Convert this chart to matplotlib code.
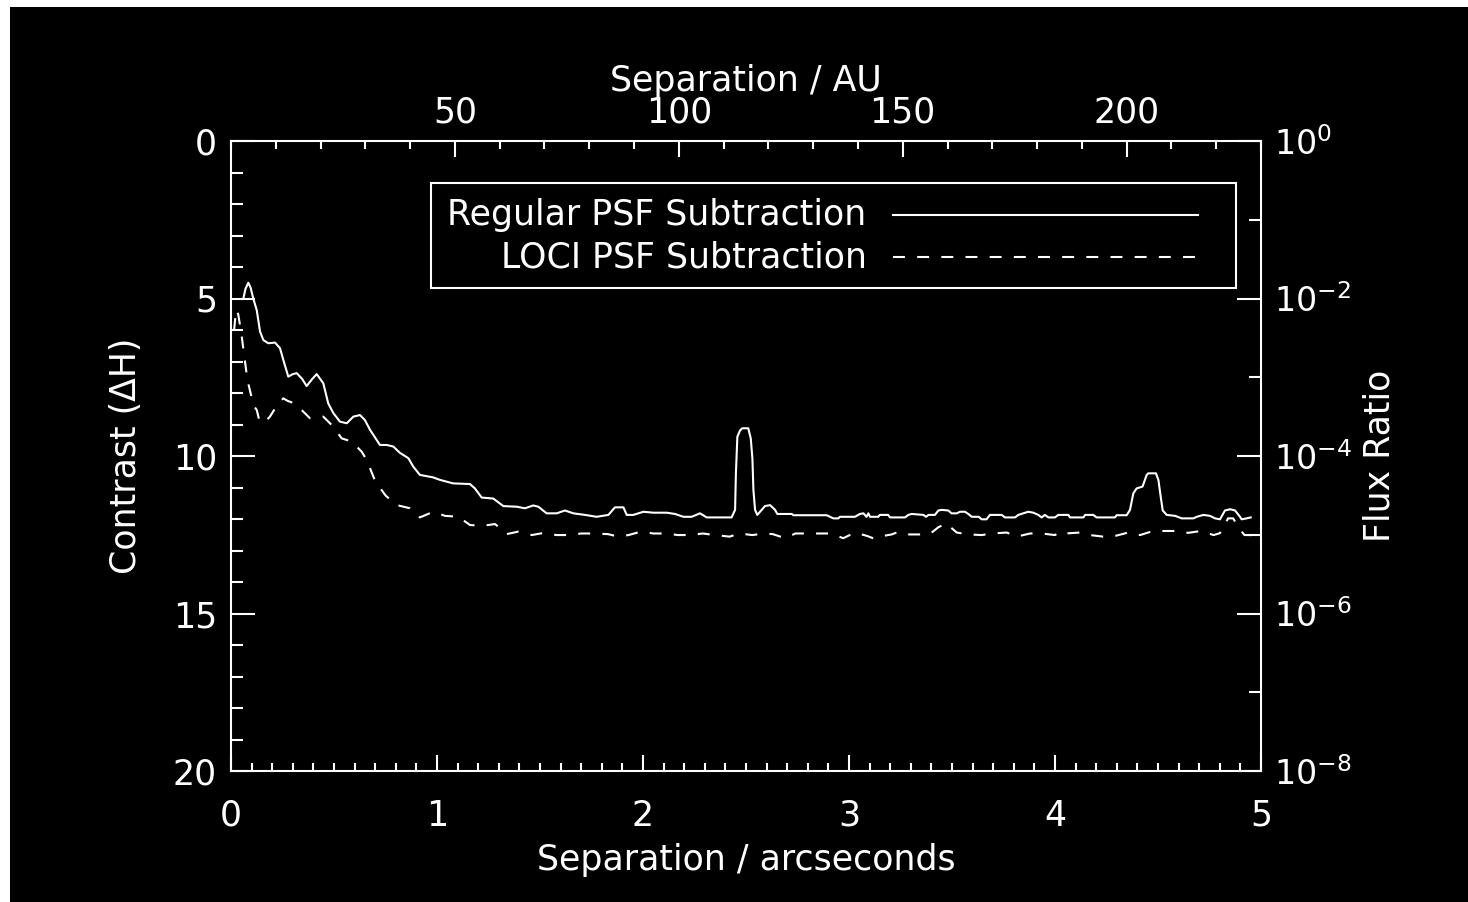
import numpy as np
import matplotlib
matplotlib.use("Agg")
import matplotlib.pyplot as plt
from matplotlib.patches import Rectangle
from matplotlib.ticker import MultipleLocator, FixedLocator

# Contrast curves (separation in arcsec, delta H in mag)
reg_sep = [0.060, 0.070, 0.084, 0.095, 0.108, 0.125, 0.141, 0.157, 0.181, 0.214,
           0.238, 0.254, 0.278, 0.300, 0.319, 0.345, 0.367, 0.395, 0.416, 0.448,
           0.472, 0.497, 0.529, 0.562, 0.594, 0.626, 0.650, 0.675, 0.723, 0.756,
           0.788, 0.820, 0.861, 0.885, 0.917, 0.982, 1.015, 1.079, 1.160, 1.184,
           1.217, 1.273, 1.322, 1.387, 1.427, 1.467, 1.492, 1.532, 1.581, 1.621,
           1.662, 1.718, 1.775, 1.832, 1.864, 1.905, 1.921, 1.953, 2.002, 2.050,
           2.115, 2.155, 2.196, 2.236, 2.277, 2.309, 2.430, 2.447, 2.451, 2.458,
           2.471, 2.482, 2.511, 2.523, 2.531, 2.536, 2.544, 2.555, 2.568, 2.592,
           2.617, 2.641, 2.652, 2.722, 2.730, 2.892, 2.924, 2.948, 2.956, 3.029,
           3.053, 3.070, 3.085, 3.094, 3.102, 3.142, 3.150, 3.190, 3.199, 3.272,
           3.288, 3.304, 3.361, 3.374, 3.386, 3.417, 3.434, 3.450, 3.482, 3.498,
           3.523, 3.539, 3.563, 3.579, 3.596, 3.630, 3.644, 3.668, 3.684, 3.741,
           3.757, 3.806, 3.822, 3.846, 3.870, 3.895, 3.919, 3.935, 3.951, 3.968,
           4.000, 4.016, 4.065, 4.073, 4.138, 4.146, 4.186, 4.202, 4.291, 4.299,
           4.348, 4.364, 4.380, 4.396, 4.425, 4.445, 4.453, 4.490, 4.502, 4.513,
           4.523, 4.542, 4.583, 4.615, 4.672, 4.688, 4.720, 4.752, 4.777, 4.801,
           4.825, 4.850, 4.874, 4.898, 4.906, 4.930, 4.950]
reg_dh = [5.00, 4.70, 4.50, 4.65, 5.00, 5.37, 6.05, 6.32, 6.42, 6.40,
          6.58, 6.95, 7.48, 7.40, 7.37, 7.55, 7.78, 7.55, 7.40, 7.69,
          8.33, 8.64, 8.91, 8.96, 8.75, 8.70, 8.86, 9.17, 9.65, 9.65,
          9.70, 9.90, 10.07, 10.34, 10.60, 10.68, 10.76, 10.87, 10.89, 11.03,
          11.32, 11.35, 11.59, 11.61, 11.66, 11.57, 11.61, 11.82, 11.82, 11.73,
          11.82, 11.87, 11.93, 11.87, 11.63, 11.63, 11.87, 11.87, 11.77, 11.80,
          11.80, 11.84, 11.93, 11.93, 11.82, 11.95, 11.95, 11.71, 10.55, 9.39,
          9.19, 9.12, 9.12, 9.44, 10.07, 11.08, 11.71, 11.87, 11.77, 11.59,
          11.56, 11.71, 11.84, 11.84, 11.88, 11.88, 11.98, 11.98, 11.93, 11.93,
          11.84, 11.82, 11.93, 11.82, 11.93, 11.93, 11.87, 11.87, 11.95, 11.95,
          11.87, 11.84, 11.87, 11.93, 11.87, 11.87, 11.73, 11.71, 11.73, 11.82,
          11.82, 11.77, 11.77, 11.84, 11.93, 11.93, 12.01, 12.01, 11.87, 11.87,
          11.95, 11.95, 11.87, 11.82, 11.77, 11.80, 11.87, 11.95, 11.87, 11.95,
          11.95, 11.87, 11.87, 11.95, 11.95, 11.87, 11.87, 11.95, 11.95, 11.88,
          11.88, 11.71, 11.19, 11.03, 10.97, 10.60, 10.55, 10.55, 10.76, 11.29,
          11.73, 11.87, 11.90, 11.98, 11.98, 11.93, 11.87, 11.90, 11.98, 12.01,
          11.73, 11.69, 11.73, 11.93, 12.01, 11.98, 11.95]

loci_sep = [0.015, 0.025, 0.035, 0.050, 0.080, 0.110, 0.125, 0.137, 0.160, 0.189,
            0.214, 0.235, 0.254, 0.275, 0.295, 0.320, 0.343, 0.383, 0.410, 0.448,
            0.497, 0.537, 0.586, 0.610, 0.634, 0.659, 0.700, 0.750, 0.800, 0.869,
            0.917, 0.982, 1.039, 1.104, 1.160, 1.217, 1.282, 1.338, 1.395, 1.460,
            1.520, 1.580, 1.640, 1.700, 1.760, 1.830, 1.880, 1.930, 1.990, 2.050,
            2.110, 2.170, 2.230, 2.290, 2.350, 2.420, 2.470, 2.530, 2.590, 2.630,
            2.690, 2.740, 2.810, 2.850, 2.920, 2.960, 2.972, 3.029, 3.089, 3.120,
            3.147, 3.207, 3.235, 3.264, 3.330, 3.390, 3.434, 3.474, 3.500, 3.523,
            3.580, 3.644, 3.693, 3.766, 3.814, 3.879, 3.935, 4.000, 4.025, 4.050,
            4.121, 4.170, 4.234, 4.291, 4.355, 4.413, 4.477, 4.534, 4.590, 4.646,
            4.710, 4.770, 4.800, 4.815, 4.840, 4.865, 4.890, 4.920, 4.970]
loci_dh = [6.00, 5.35, 5.50, 6.10, 7.60, 8.40, 8.54, 8.86, 8.95, 8.75,
           8.49, 8.30, 8.17, 8.25, 8.30, 8.40, 8.54, 8.80, 8.78, 8.75,
           9.07, 9.44, 9.54, 9.70, 9.86, 10.13, 10.80, 11.25, 11.55, 11.66,
           11.95, 11.77, 11.90, 11.93, 12.19, 12.22, 12.16, 12.48, 12.40, 12.51,
           12.44, 12.51, 12.51, 12.46, 12.46, 12.48, 12.56, 12.51, 12.40, 12.46,
           12.46, 12.51, 12.51, 12.46, 12.51, 12.56, 12.46, 12.51, 12.46, 12.48,
           12.61, 12.46, 12.46, 12.46, 12.46, 12.58, 12.61, 12.43, 12.54, 12.62,
           12.56, 12.49, 12.42, 12.49, 12.49, 12.49, 12.26, 12.14, 12.30, 12.43,
           12.49, 12.51, 12.46, 12.43, 12.56, 12.46, 12.46, 12.51, 12.40, 12.46,
           12.43, 12.51, 12.56, 12.54, 12.43, 12.51, 12.38, 12.38, 12.38, 12.44,
           12.38, 12.51, 12.45, 12.30, 11.98, 11.98, 12.27, 12.51, 12.51]

dist_pc = 46.0  # AU per arcsec
au_ticks = [50, 100, 150, 200]
flux_ticks = [1e0, 1e-2, 1e-4, 1e-6, 1e-8]
flux_labels = ["$10^{0}$", "$10^{-2}$", "$10^{-4}$", "$10^{-6}$", "$10^{-8}$"]

fg = "white"
plt.rcParams["font.family"] = "DejaVu Sans"
plt.rcParams["font.size"] = 25
plt.rcParams["mathtext.fontset"] = "dejavusans"
plt.rcParams["lines.scale_dashes"] = False

fig = plt.figure(figsize=(14.68, 9.02), dpi=100, facecolor="white")
# black plotting area (thin white strip left and top)
fig.patches.append(Rectangle((10 / 1468, 0), 1 - 10 / 1468, 1 - 7 / 902,
                             transform=fig.transFigure, facecolor="black",
                             edgecolor="none", zorder=-10))

ax = fig.add_axes([231 / 1468, 1 - 771 / 902, 1030 / 1468, 630 / 902])
ax.set_facecolor("black")
lw = 1.5

ax.plot(reg_sep, reg_dh, color=fg, lw=lw)
ax.plot(loci_sep, loci_dh, color=fg, lw=lw, linestyle=(0, (8.6, 8.8)))

ax.set_xlim(0, 5)
ax.set_ylim(20, 0)
for s in ax.spines.values():
    s.set_color(fg)
    s.set_linewidth(lw)

ax.xaxis.set_major_locator(MultipleLocator(1))
ax.xaxis.set_minor_locator(MultipleLocator(0.1))
ax.yaxis.set_major_locator(MultipleLocator(5))
ax.yaxis.set_minor_locator(MultipleLocator(1))
ax.tick_params(axis="x", which="major", direction="in", length=11.2, width=lw,
               color=fg, labelcolor=fg, pad=20, top=False)
ax.tick_params(axis="x", which="minor", direction="in", length=5.8, width=lw,
               color=fg, top=False)
ax.tick_params(axis="y", which="major", direction="in", length=17.3, width=lw,
               color=fg, labelcolor=fg, pad=10, right=False)
ax.tick_params(axis="y", which="minor", direction="in", length=8.6, width=lw,
               color=fg, right=False)

ax.set_xlabel("Separation / arcseconds", color=fg)
ax.xaxis.set_label_coords(0.5, -0.114)
ax.set_ylabel("Contrast (ΔH)", color=fg)
ax.yaxis.set_label_coords(-0.085, 0.5)

# top axis in AU
top = ax.secondary_xaxis("top", functions=(lambda x: x * dist_pc,
                                           lambda a: a / dist_pc))
top.xaxis.set_major_locator(FixedLocator(au_ticks))
top.xaxis.set_minor_locator(MultipleLocator(10))
top.tick_params(which="major", direction="in", length=11.2, width=lw,
                color=fg, labelcolor=fg, pad=8.5)
top.tick_params(which="minor", direction="in", length=5.8, width=lw, color=fg)
top.spines["top"].set_visible(False)
top.set_xlabel("Separation / AU", color=fg, labelpad=3)

# right axis: flux ratio
ax2 = ax.twinx()
ax2.set_yscale("log")
ax2.set_ylim(1e-8, 1)
ax2.set_yticks(flux_ticks, flux_labels)
ax2.yaxis.set_minor_locator(FixedLocator([1e-1, 1e-3, 1e-5, 1e-7]))
ax2.yaxis.set_minor_formatter(plt.NullFormatter())
ax2.tick_params(which="major", direction="in", length=17.3, width=lw,
                color=fg, labelcolor=fg, pad=9, labelsize=24)
ax2.tick_params(which="minor", direction="in", length=8.6, width=lw, color=fg)
for s in ax2.spines.values():
    s.set_visible(False)
ax2.set_ylabel("Flux Ratio", color=fg)
ax2.yaxis.set_label_coords(1.099, 0.5)

# legend box
ax.add_patch(Rectangle((0.194, 0.767), 0.7816, 0.1667, transform=ax.transAxes,
                       facecolor="none", edgecolor=fg, lw=lw))
ax.text(0.617, 0.883, "Regular PSF Subtraction", transform=ax.transAxes,
        color=fg, ha="right", va="center")
ax.text(0.617, 0.815, "LOCI PSF Subtraction", transform=ax.transAxes,
        color=fg, ha="right", va="center")
ax.plot([0.6427, 0.9388], [0.883, 0.883], transform=ax.transAxes,
        color=fg, lw=lw)
ax.plot([0.6427, 0.9388], [0.816, 0.816], transform=ax.transAxes,
        color=fg, lw=lw, linestyle=(0, (8.6, 8.8)))

fig.savefig("out.png", dpi=100, facecolor=fig.get_facecolor())
